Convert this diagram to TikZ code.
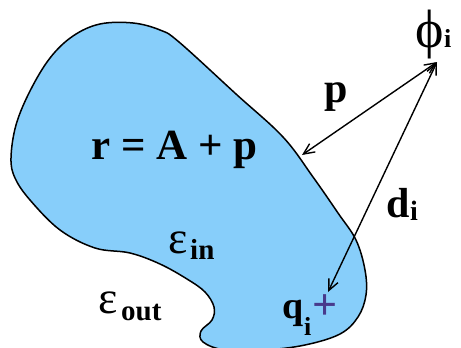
\documentclass[tikz,border=0pt]{standalone}
\usepackage{fontspec}
\setmainfont{Liberation Serif}
\usetikzlibrary{arrows.meta}
\definecolor{blobblue}{RGB}{135,206,250}
\definecolor{plusblue}{RGB}{72,58,140}
\tikzset{
  lbl/.style={inner sep=0pt, anchor=base west, text=black},
  twoway/.style={line width=1.4pt, {Straight Barb[length=11pt,width=10pt]}-{Straight Barb[length=11pt,width=10pt]}},
}
\begin{document}
\begin{tikzpicture}[x=1pt,y=-1pt]
\useasboundingbox (0,0) rectangle (461,348);
\begin{scope}
\clip (0,0) rectangle (461,348);
\draw[line width=1.5pt, fill=blobblue] plot[smooth cycle, tension=0.6] coordinates {
 (11,158) (16,125) (30,91) (50,58) (73,36) (100,24) (133,23) (160,30) (179,42)
 (236,94) (283,137) (313,177) (338,213) (356,240) (365,270) (366,295)
 (358,317) (340,334) (305,345) (265,350) (225,350) (203,342) (201,331) (212,320)
 (214,307) (205,292) (187,279) (160,264) (130,253) (95,248) (60,230) (30,200) (15,178)};
\end{scope}
% text
\node[lbl, font=\fontsize{43}{43}\selectfont\bfseries] (rap) at (91,159) {r = A + p};
\node[lbl, font=\fontsize{42}{42}\selectfont\bfseries] (plab) at (324,102) {p};
\node[lbl, font=\fontsize{42}{42}\selectfont\bfseries] (dlab) at (386,217) {d};
\node[lbl, font=\fontsize{28}{28}\selectfont\bfseries] (dsub) at (410,220) {i};
\node[lbl, font=\fontsize{54}{54}\selectfont] (phi) at (415,47) {ϕ};
\node[lbl, font=\fontsize{26}{26}\selectfont\bfseries] (phisub) at (444,47) {i};
\node[lbl, font=\fontsize{46}{46}\selectfont] (ein) at (168,253) {ε};
\node[lbl, font=\fontsize{29}{29}\selectfont\bfseries] (einsub) at (190,259) {in};
\node[lbl, font=\fontsize{46}{46}\selectfont] (eout) at (98,313) {ε};
\node[lbl, font=\fontsize{29}{29}\selectfont\bfseries] (eoutsub) at (121,320) {out};
\node[lbl, font=\fontsize{38}{38}\selectfont\bfseries] (qlab) at (282,318) {q};
\node[lbl, font=\fontsize{26}{26}\selectfont\bfseries] (qsub) at (304,335) {i};
\node[inner sep=0pt, text=plusblue, font=\fontsize{44}{44}\selectfont\bfseries] (plus) at (325,307) {+};
% arrows
\coordinate (phitip) at (437,62);
\coordinate (pend) at (302,155);
\coordinate (qend) at (328,292);
\draw[twoway] (pend) -- (phitip);
\draw[twoway] (qend) -- (phitip);
\end{tikzpicture}
\end{document}
